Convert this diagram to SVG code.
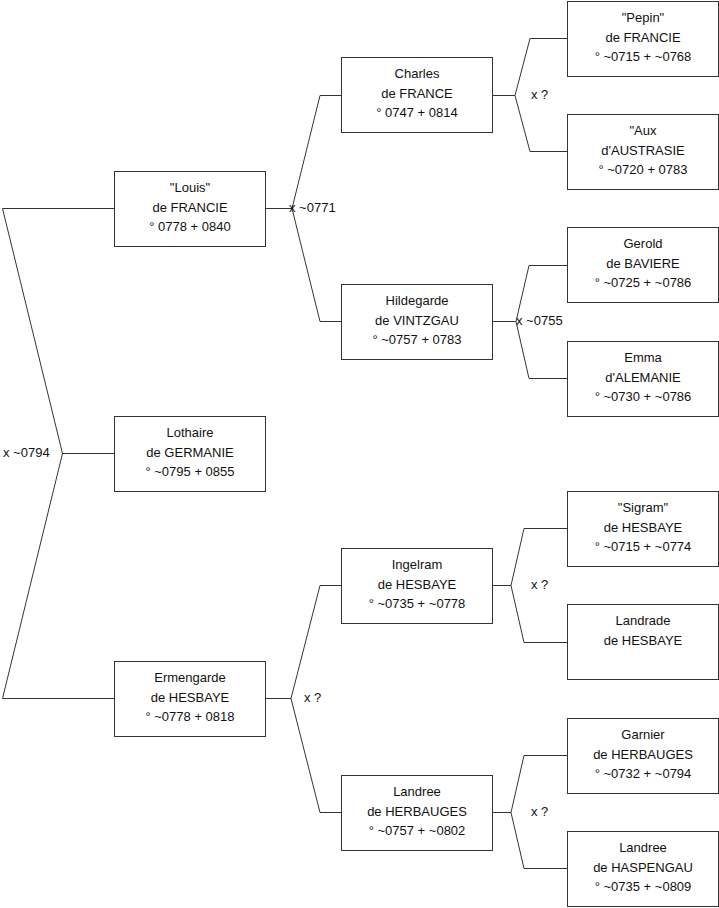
<svg xmlns="http://www.w3.org/2000/svg" width="719" height="908" viewBox="0 0 719 908">
<style>
.box{fill:#fff;stroke:#333;stroke-width:1}
.ln{fill:none;stroke:#333;stroke-width:1}
text{font-family:"Liberation Sans",Arial,sans-serif;font-size:13px;fill:#111}
.c{text-anchor:middle}
</style>
<rect width="719" height="908" fill="#fff"/>
<g id="connectors">
<path class="ln" d="M114,208.5 H2.5 L62.5,453.5 L2.5,698.5 H114 M62.5,453.5 H114"/>
<path class="ln" d="M265,208.5 H292 M341,95.5 H320 L292,208.5 L320,321.5 H341"/>
<path class="ln" d="M492,95.5 H515 M567,38.5 H530 L515,95.5 L530,151.5 H567"/>
<path class="ln" d="M492,321.5 H516 M567,265.5 H529 L516,321.5 L529,378.5 H567"/>
<path class="ln" d="M265,698.5 H291 M341,585.5 H320 L291,698.5 L320,812.5 H341"/>
<path class="ln" d="M492,585.5 H511 M567,528.5 H524 L511,585.5 L524,642.5 H567"/>
<path class="ln" d="M492,812.5 H511 M567,755.5 H524 L511,812.5 L524,868.5 H567"/>
<text x="3" y="457">x ~0794</text>
<text x="289" y="212">x ~0771</text>
<text x="531" y="99">x ?</text>
<text x="516" y="325">x ~0755</text>
<text x="304" y="702">x ?</text>
<text x="531" y="589">x ?</text>
<text x="531" y="816">x ?</text>
</g>
<g id="louis"><rect class="box" x="114.5" y="171.5" width="151" height="75"/><text class="c" x="190" y="192">"Louis"</text><text class="c" x="190" y="212">de FRANCIE</text><text class="c" x="190" y="231">° 0778 + 0840</text></g>
<g id="lothaire"><rect class="box" x="114.5" y="416.5" width="151" height="75"/><text class="c" x="190" y="437">Lothaire</text><text class="c" x="190" y="457">de GERMANIE</text><text class="c" x="190" y="476">° ~0795 + 0855</text></g>
<g id="ermengarde"><rect class="box" x="114.5" y="661.5" width="151" height="75"/><text class="c" x="190" y="682">Ermengarde</text><text class="c" x="190" y="702">de HESBAYE</text><text class="c" x="190" y="721">° ~0778 + 0818</text></g>
<g id="charles"><rect class="box" x="341.5" y="57.5" width="151" height="75"/><text class="c" x="417" y="78">Charles</text><text class="c" x="417" y="98">de FRANCE</text><text class="c" x="417" y="117">° 0747 + 0814</text></g>
<g id="hildegarde"><rect class="box" x="341.5" y="284.5" width="151" height="75"/><text class="c" x="417" y="305">Hildegarde</text><text class="c" x="417" y="325">de VINTZGAU</text><text class="c" x="417" y="344">° ~0757 + 0783</text></g>
<g id="ingelram"><rect class="box" x="341.5" y="548.5" width="151" height="75"/><text class="c" x="417" y="569">Ingelram</text><text class="c" x="417" y="589">de HESBAYE</text><text class="c" x="417" y="608">° ~0735 + ~0778</text></g>
<g id="landree1"><rect class="box" x="341.5" y="775.5" width="151" height="75"/><text class="c" x="417" y="796">Landree</text><text class="c" x="417" y="816">de HERBAUGES</text><text class="c" x="417" y="835">° ~0757 + ~0802</text></g>
<g id="pepin"><rect class="box" x="567.5" y="1.5" width="151" height="75"/><text class="c" x="643" y="22">"Pepin"</text><text class="c" x="643" y="42">de FRANCIE</text><text class="c" x="643" y="61">° ~0715 + ~0768</text></g>
<g id="aux"><rect class="box" x="567.5" y="114.5" width="151" height="75"/><text class="c" x="643" y="135">"Aux</text><text class="c" x="643" y="155">d'AUSTRASIE</text><text class="c" x="643" y="174">° ~0720 + 0783</text></g>
<g id="gerold"><rect class="box" x="567.5" y="227.5" width="151" height="75"/><text class="c" x="643" y="248">Gerold</text><text class="c" x="643" y="268">de BAVIERE</text><text class="c" x="643" y="287">° ~0725 + ~0786</text></g>
<g id="emma"><rect class="box" x="567.5" y="341.5" width="151" height="75"/><text class="c" x="643" y="362">Emma</text><text class="c" x="643" y="382">d'ALEMANIE</text><text class="c" x="643" y="401">° ~0730 + ~0786</text></g>
<g id="sigram"><rect class="box" x="567.5" y="491.5" width="151" height="75"/><text class="c" x="643" y="512">"Sigram"</text><text class="c" x="643" y="532">de HESBAYE</text><text class="c" x="643" y="551">° ~0715 + ~0774</text></g>
<g id="landrade"><rect class="box" x="567.5" y="604.5" width="151" height="75"/><text class="c" x="643" y="625">Landrade</text><text class="c" x="643" y="645">de HESBAYE</text></g>
<g id="garnier"><rect class="box" x="567.5" y="718.5" width="151" height="75"/><text class="c" x="643" y="739">Garnier</text><text class="c" x="643" y="759">de HERBAUGES</text><text class="c" x="643" y="778">° ~0732 + ~0794</text></g>
<g id="landree2"><rect class="box" x="567.5" y="831.5" width="151" height="75"/><text class="c" x="643" y="852">Landree</text><text class="c" x="643" y="872">de HASPENGAU</text><text class="c" x="643" y="891">° ~0735 + ~0809</text></g>
</svg>
